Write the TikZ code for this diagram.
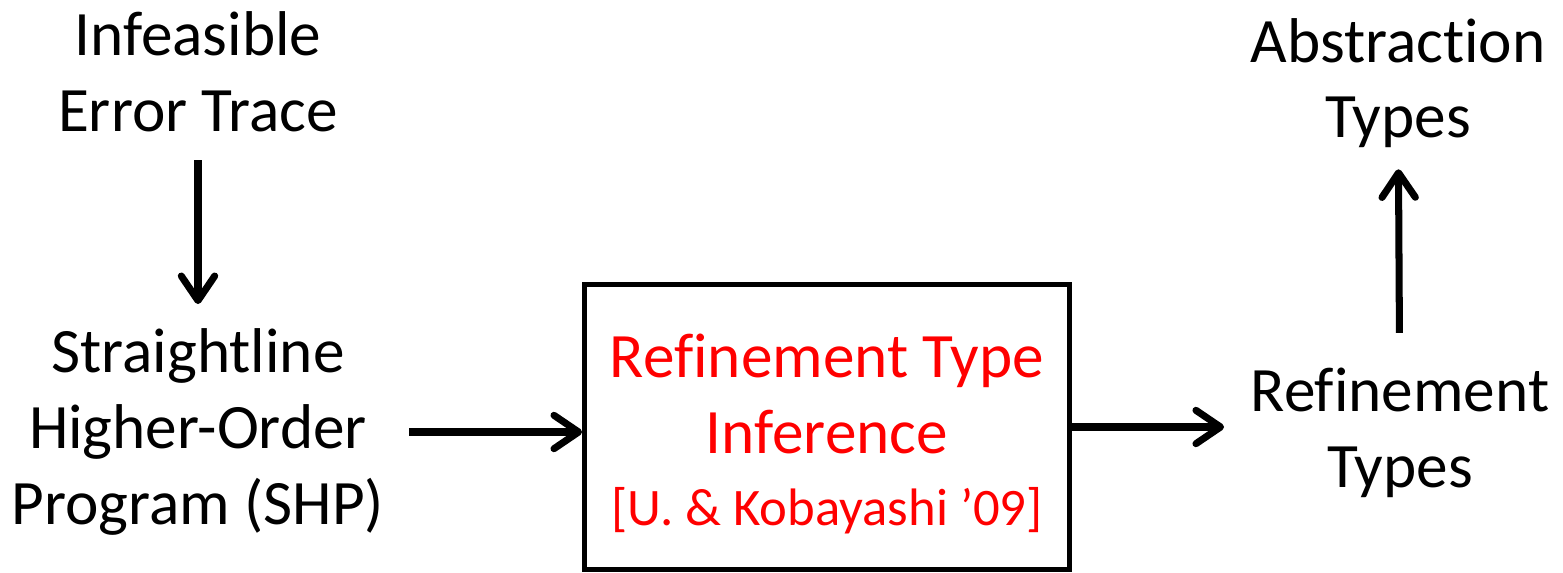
\documentclass[tikz,border=0pt]{standalone}
\usepackage{fontspec}
\setmainfont{Carlito}[Ligatures=NoCommon]
\usetikzlibrary{arrows.meta,positioning}

\begin{document}
\begin{tikzpicture}[x=0.02cm,y=-0.02cm,
  lbl/.style={align=center,inner sep=0pt,font=\fontsize{36}{43}\selectfont},
  box/.style={draw,line width=2.8pt,minimum width=9.7cm,minimum height=5.7cm,inner sep=0pt,
    align=center,text=red,font=\fontsize{36}{43}\selectfont},
  arr/.style={line width=4pt,-{Straight Barb[length=14pt,width=19pt,line cap=round,line join=round]}}]
\useasboundingbox (0,0) rectangle (1563,572);
% inputs
\node[lbl] (trace) at (198,72) {Infeasible\\Error Trace};
\node[lbl] (shp) at (198,432) {Straightline\\Higher-Order\\Program (SHP)};
% inference box
\node[box] (infer) at (827,427) {};
\node[text=red,align=center,font=\fontsize{36}{43}\selectfont] (infertxt) at (827,434)
  {Refinement Type\\Inference\\[-2pt]{\fontsize{30}{36}\selectfont[U. \& Kobayashi '09]}};
% outputs
\node[lbl] (reft) at (1400,433) {Refinement\\Types};
\node[lbl] (abst) at (1398,83) {Abstraction\\Types};
\draw[arr,shorten <=16pt,shorten >=14pt] (trace) -- (shp);
\draw[arr,shorten <=14pt] (shp.east) -- (shp.east -| infer.west);
\draw[arr,shorten >=15pt] (infer.east) -- (infer.east -| reft.west);
\draw[arr,shorten <=20pt,shorten >=12pt] (reft) -- (abst);
\end{tikzpicture}
\end{document}
